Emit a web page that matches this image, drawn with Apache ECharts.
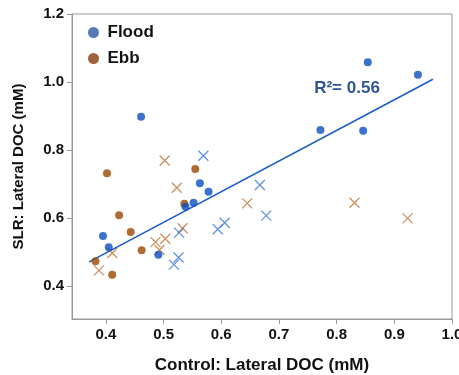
<!DOCTYPE html>
<html>
<head>
<meta charset="utf-8">
<script src="https://cdn.jsdelivr.net/npm/echarts@6/dist/echarts.min.js"></script>
<style>html,body{margin:0;padding:0;background:#fff;}#c{width:459px;height:375px;}</style>
</head>
<body>
<div id="c"></div>
<script>
// Flood, circle markers [control, SLR]
var floodDots = [[0.461,0.898],[0.395,0.547],[0.405,0.514],[0.491,0.492],[0.538,0.633],[0.552,0.645],[0.563,0.702],[0.578,0.677],[0.772,0.859],[0.846,0.857],[0.854,1.058],[0.941,1.021]];
// Flood, cross markers
var floodCross = [[0.569,0.783],[0.527,0.557],[0.526,0.484],[0.518,0.463],[0.594,0.567],[0.606,0.586],[0.667,0.697],[0.678,0.607]];
// Ebb, circle markers
var ebbDots = [[0.402,0.732],[0.423,0.608],[0.443,0.559],[0.462,0.505],[0.382,0.473],[0.411,0.433],[0.555,0.744],[0.536,0.642]];
// Ebb, cross markers
var ebbCross = [[0.388,0.446],[0.411,0.497],[0.502,0.769],[0.523,0.689],[0.533,0.570],[0.486,0.529],[0.493,0.506],[0.503,0.539],[0.645,0.643],[0.831,0.645],[0.923,0.599]];
// Regression line endpoints
var fitLine = [[0.371,0.471],[0.967,1.008]];
var r2Label = 'R\u00B2= 0.56';
var r2Pos = [0.818, 0.982];
var xTicks = [0.4,0.5,0.6,0.7,0.8,0.9,1.0];
var yTicks = [0.4,0.6,0.8,1.0,1.2];

var FONT = 'Liberation Sans, Arial, sans-serif';
var crossPath = 'path://M0,0L10,10M10,0L0,10';
var chart = echarts.init(document.getElementById('c'), null, {renderer:'canvas'});
chart.setOption({
  animation:false,
  backgroundColor:'#fff',
  grid:{left:72,right:7,top:14,bottom:56,show:true,borderColor:'#999',borderWidth:1,outerBoundsMode:'none',containLabel:false},
  legend:{
    left:83, top:19, orient:'vertical', itemGap:9, itemWidth:18, itemHeight:11, icon:'circle',
    textStyle:{fontFamily:FONT,fontWeight:'bold',fontSize:17,color:'#111'},
    data:[{name:'Flood',itemStyle:{color:'#2e58a6',borderWidth:0}},{name:'Ebb',itemStyle:{color:'#863c0c',borderWidth:0}}]
  },
  xAxis:{
    type:'value', min:0.3413, max:1.0, interval:0.1,
    name:'Control: Lateral DOC (mM)', nameLocation:'middle', nameGap:38,
    nameTextStyle:{fontFamily:FONT,fontWeight:'bold',fontSize:17,color:'#111'},
    axisLine:{show:true,lineStyle:{color:'#999'}},
    axisTick:{show:true,length:5,lineStyle:{color:'#999'},customValues:xTicks},
    axisLabel:{fontFamily:FONT,fontWeight:'bold',fontSize:15,color:'#111',margin:8,customValues:xTicks,
      formatter:function(v){return v.toFixed(1);}},
    splitLine:{show:false}
  },
  yAxis:{
    type:'value', min:0.303, max:1.2,
    name:'SLR: Lateral DOC (mM)', nameLocation:'middle', nameGap:46,
    nameTextStyle:{fontFamily:FONT,fontWeight:'bold',fontSize:15,color:'#111'},
    axisLine:{show:true,lineStyle:{color:'#999'}},
    axisTick:{show:true,length:5,lineStyle:{color:'#999'},customValues:yTicks},
    axisLabel:{fontFamily:FONT,fontWeight:'bold',fontSize:15,color:'#111',margin:8,customValues:yTicks,
      formatter:function(v){return v.toFixed(1);}},
    splitLine:{show:false}
  },
  series:[
    {name:'Fit',type:'line',data:fitLine,symbol:'none',lineStyle:{color:'#1a5cc8',width:1.6},z:1,
     markPoint:{symbol:'circle',symbolSize:0,data:[{coord:r2Pos}],
       label:{show:true,formatter:r2Label,fontFamily:FONT,fontWeight:'bold',fontSize:17,color:'#2f5597',position:'inside'}}},
    {name:'Ebb',type:'scatter',data:ebbCross,symbol:crossPath,symbolSize:10,
     itemStyle:{color:'transparent',borderColor:'#c07438',borderWidth:1.3},z:2},
    {name:'Flood',type:'scatter',data:floodCross,symbol:crossPath,symbolSize:10,
     itemStyle:{color:'transparent',borderColor:'#3a78d8',borderWidth:1.3},z:2},
    {name:'Ebb',type:'scatter',data:ebbDots,symbol:'circle',symbolSize:8,itemStyle:{color:'#9a4700'},z:3},
    {name:'Flood',type:'scatter',data:floodDots,symbol:'circle',symbolSize:8,itemStyle:{color:'#0b4fc2'},z:3}
  ]
});
</script>
</body>
</html>
